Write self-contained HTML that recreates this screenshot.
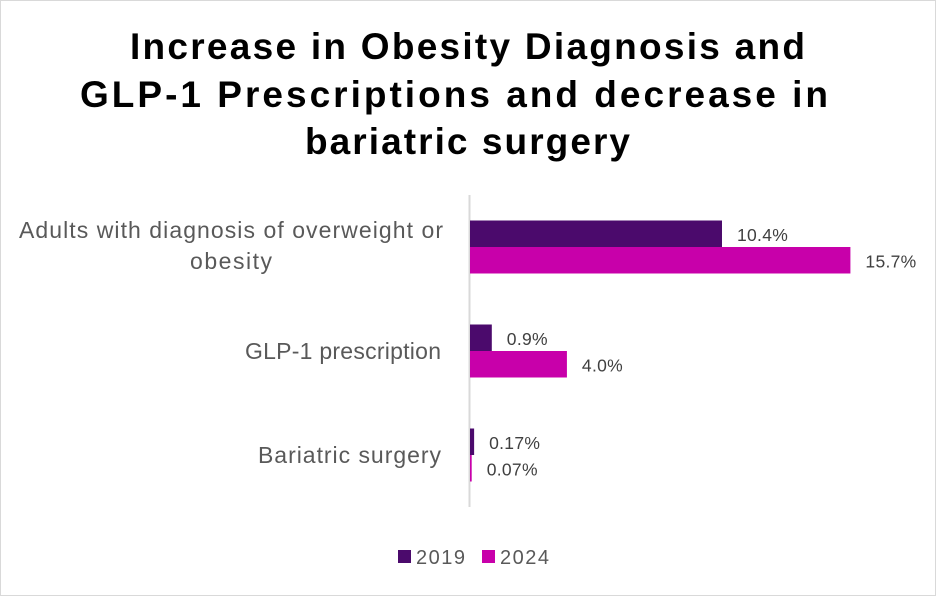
<!DOCTYPE html>
<html><head><meta charset="utf-8">
<style>
html,body{margin:0;padding:0;background:#fff;}
#wrap{width:936px;height:596px;position:relative;overflow:hidden;}
text{font-family:"Liberation Sans",sans-serif;}
</style></head>
<body>
<div id="wrap">
<svg id="chart" width="936" height="596" xmlns="http://www.w3.org/2000/svg">
<rect x="0.5" y="0.5" width="935" height="595" fill="#fff" stroke="#d9d9d9"/>
<g font-weight="bold" font-size="37" fill="#000">
<text x="130" y="59" textLength="675" lengthAdjust="spacing">Increase in Obesity Diagnosis and</text>
<text x="80" y="107" textLength="748" lengthAdjust="spacing">GLP-1 Prescriptions and decrease in</text>
<text x="305" y="154" textLength="325" lengthAdjust="spacing">bariatric surgery</text>
</g>
<line x1="469.5" y1="195" x2="469.5" y2="507" stroke="#d9d9d9" stroke-width="2"/>
<g id="bars"></g>
<g>
<rect x="398" y="550" width="13" height="13" fill="#4b0a6c"/>
<text x="416" y="564" font-size="20" fill="#595959" textLength="49" lengthAdjust="spacing">2019</text>
<rect x="482" y="550" width="13" height="13" fill="#c800aa"/>
<text x="500" y="564" font-size="20" fill="#595959" textLength="49" lengthAdjust="spacing">2024</text>
</g>
</svg>
</div>
<script>
const categories = [["Adults with diagnosis of overweight or","obesity"],["GLP-1 prescription"],["Bariatric surgery"]];
const values2019 = [10.4, 0.9, 0.17];
const values2024 = [15.7, 4.0, 0.07];
const labels2019 = ["10.4%","0.9%","0.17%"];
const labels2024 = ["15.7%","4.0%","0.07%"];

const NS = "http://www.w3.org/2000/svg";
const x0 = 470, pxPer = 24.23;
function xScale(v){ return x0 + v*pxPer; }
function catCenter(i){ return 247 + i*104; }
const barH = 26.5;
const g = document.getElementById('bars');
function mk(tag, attrs){ const e=document.createElementNS(NS,tag); for(const k in attrs) e.setAttribute(k,attrs[k]); return e; }
categories.forEach((cat,i)=>{
  const c = catCenter(i);
  const series = [[values2019[i],labels2019[i],"#4b0a6c",c-barH,"2019"],[values2024[i],labels2024[i],"#c800aa",c,"2024"]];
  series.forEach(s=>{
    const w = Math.max(xScale(s[0])-x0, 0);
    const r = mk('rect',{x:x0,y:s[3],width:w,height:barH,fill:s[2]});
    
    
    g.appendChild(r);
    const t = mk('text',{x:xScale(s[0])+15,y:s[3]+barH/2+7,'font-size':17.5,fill:'#404040','letter-spacing':'0.3'});
    t.textContent = s[1];
    
    
    g.appendChild(t);
  });
  if(cat.length > 1){
    const widths = [424, 82];
    cat.forEach((ln,k)=>{
      const t = mk('text',{x:231,y:c-9+k*31,'font-size':23,fill:'#595959','text-anchor':'middle',textLength:widths[k],lengthAdjust:'spacing'});
      t.textContent = ln;
      
      
      g.appendChild(t);
    });
  } else {
    const widths = {1:196, 2:183};
    const t = mk('text',{x:441-widths[i],y:c+8,'font-size':23,fill:'#595959',textLength:widths[i],lengthAdjust:'spacing'});
    t.textContent = cat[0];
    
    
    g.appendChild(t);
  }
});
</script>
</body></html>
